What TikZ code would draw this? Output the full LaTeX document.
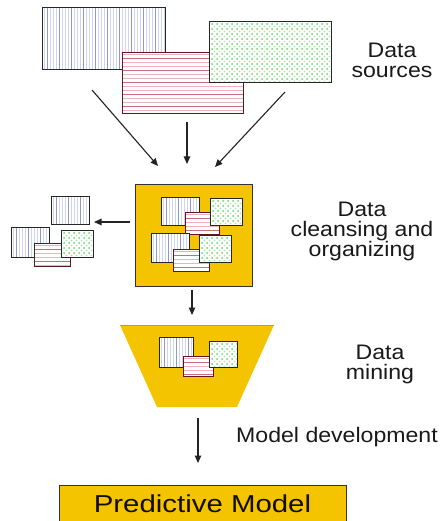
\documentclass[tikz,border=0pt]{standalone}
\usepackage{fontspec}
\setmainfont{Liberation Sans}
\newfontfamily\lblfont[FakeStretch=1.1]{Liberation Sans}
\newfontfamily\bigfont[FakeStretch=1.2]{Liberation Sans}
\usetikzlibrary{arrows.meta}
\definecolor{gold}{RGB}{245,196,0}
\definecolor{golddark}{RGB}{200,160,20}
\definecolor{bluelight}{RGB}{208,211,238}
\definecolor{bluedark}{RGB}{145,151,200}
\definecolor{redlight}{RGB}{236,178,186}
\definecolor{reddark}{RGB}{196,110,126}
\definecolor{rededge}{RGB}{90,25,35}
\definecolor{greendot}{RGB}{105,210,105}
\definecolor{arrowgray}{RGB}{35,35,35}
\definecolor{txt}{RGB}{25,25,25}
\tikzset{
  edge/.style={draw=black!85, line width=0.9pt},
  rededge/.style={draw=rededge, line width=0.9pt},
  flow/.style={draw=arrowgray, line width=1.1pt, -{Triangle[length=7.5pt,width=6.5pt]}},
  lbl/.style={inner sep=0pt, text=txt, align=center},
  yellowbox/.style={fill=gold, draw=black!80, line width=0.9pt, inner sep=0pt},
}
% #1 x1, #2 y1, #3 x2, #4 y2
\newcommand\BlueRect[4]{%
  \begin{scope}
    \fill[white] (#1,#2) rectangle (#3,#4);
    \clip (#1,#2) rectangle (#3,#4);
    \foreach \k in {0,...,42} {\draw[bluelight, line width=1pt] ({#1+2+3*\k},#2) -- ({#1+2+3*\k},#4);}
    \foreach \k in {0,...,11} {\draw[bluedark, line width=1pt] ({#1+5+12*\k},#2) -- ({#1+5+12*\k},#4);}
  \end{scope}
  \draw[edge] (#1,#2) rectangle (#3,#4);
}
\newcommand\RedRect[4]{%
  \begin{scope}
    \fill[white] (#1,#2) rectangle (#3,#4);
    \clip (#1,#2) rectangle (#3,#4);
    \foreach \k in {0,...,20} {\draw[redlight, line width=1.7pt] (#1,{#2+2.5+4*\k}) -- (#3,{#2+2.5+4*\k});}
    \foreach \k in {0,...,7} {\draw[reddark, line width=1.7pt] (#1,{#2+6.5+12*\k}) -- (#3,{#2+6.5+12*\k});}
  \end{scope}
  \draw[rededge] (#1,#2) rectangle (#3,#4);
}
\newcommand\GreenRect[4]{%
  \begin{scope}
    \fill[white] (#1,#2) rectangle (#3,#4);
    \clip (#1,#2) rectangle (#3,#4);
    \foreach \i in {0,...,25} {
      \foreach \j in {0,...,13} {
        \fill[greendot] ({#1+3+5*\i},{#2+3+5*\j}) circle (1.0);
        \fill[greendot!55] ({#1+5.5+5*\i},{#2+5.5+5*\j}) circle (0.8);
      }
    }
  \end{scope}
  \draw[edge] (#1,#2) rectangle (#3,#4);
}
\begin{document}
\begin{tikzpicture}[x=1pt, y=-1pt]
\useasboundingbox (0,0) rectangle (444,521);
\fill[white] (0,0) rectangle (444,521);
\clip (0,0) rectangle (444,521);

% ---- Data sources ----
\BlueRect{42}{7}{165}{69}
\RedRect{122}{52}{243}{113}
\GreenRect{209}{21}{331}{82}
\node[lbl, anchor=north, font=\lblfont\fontsize{21}{19.5}\selectfont] (srclbl) at (392,43) {Data\\sources};

% arrows into cleansing
\coordinate (s1) at (92,90);
\coordinate (e1) at (158,166);
\coordinate (s2) at (187,122);
\coordinate (e2) at (187,164);
\coordinate (s3) at (285,92);
\coordinate (e3) at (215,167);
\draw[flow] (s1) -- (e1);
\draw[flow] (s2) -- (e2);
\draw[flow] (s3) -- (e3);

% ---- Cleansing ----
\node[yellowbox, minimum width=117pt, minimum height=102pt] (clean) at (193.5,235) {};
\BlueRect{161}{197}{199}{225}
\RedRect{185}{212}{219}{234}
\GreenRect{210}{198}{242}{225}
\BlueRect{151}{233}{189}{262}
\RedRect{173}{249}{209}{271}
\GreenRect{199}{235}{231}{262}
\node[lbl, anchor=north, font=\lblfont\fontsize{21}{19.5}\selectfont] (cleanlbl) at (362,202) {Data\\cleansing and\\organizing};

% side output
\BlueRect{51}{196}{89}{224}
\BlueRect{11}{227}{49}{257}
\RedRect{34}{243}{70}{266}
\GreenRect{61}{230}{93}{257}
\coordinate (sideout) at (94,222);
\coordinate (sidein) at (130,222);
\draw[flow] (sidein) -- (sideout);

% arrow to mining
\coordinate (m1) at (192,290);
\coordinate (m2) at (192,315);
\draw[flow] (m1) -- (m2);

% ---- Mining ----
\coordinate (tl) at (120,325);
\coordinate (tr) at (274,325);
\coordinate (br) at (237,407);
\coordinate (bl) at (157,407);
\fill[gold] (tl) -- (tr) -- (br) -- (bl) -- cycle;
\draw[golddark, line width=0.6pt] (tl) -- (tr);
\BlueRect{159}{337}{193}{367}
\RedRect{183}{356}{213}{376}
\GreenRect{209}{341}{237}{367}
\node[lbl, anchor=north, font=\lblfont\fontsize{21}{20}\selectfont] (minelbl) at (380,345) {Data\\mining};

% ---- Model development ----
\coordinate (d1) at (198,418);
\coordinate (d2) at (198,463);
\draw[flow] (d1) -- (d2);
\node[lbl, anchor=base west, font=\lblfont\fontsize{21}{20}\selectfont] (devlbl) at (236,442) {Model development};

% ---- Predictive model ----
\node[yellowbox, minimum width=287pt, minimum height=37pt, text=black!90!brown,
      font=\bigfont\fontsize{24.5}{26}\selectfont] (pred) at (202.5,503.5) {Predictive Model};
\end{tikzpicture}
\end{document}
